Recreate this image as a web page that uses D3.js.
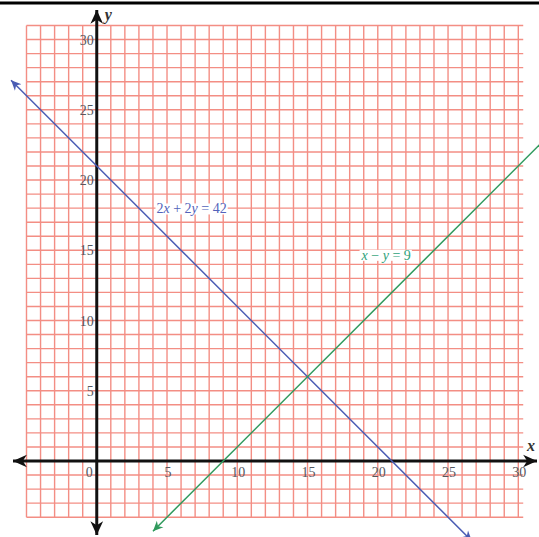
<!DOCTYPE html>
<html>
<head>
<meta charset="utf-8">
<script src="https://cdn.jsdelivr.net/npm/d3@7"></script>
<style>
  body { margin: 0; background: #fff; }
  svg { display: block; }
  text { font-family: "Liberation Serif", "DejaVu Serif", serif; }
</style>
</head>
<body>
<svg id="chart"></svg>
<script>
let w = 539;
let h = 537;

// data
let xTicks = [5, 10, 15, 20, 25, 30];
let yTicks = [5, 10, 15, 20, 25, 30];
let gridX = d3.range(-5, 31);   // vertical grid lines
let gridY = d3.range(-4, 32);   // horizontal grid lines
let blueLine = [[-6.1, 27.1], [26.7, -5.7]];   // 2x + 2y = 42
let greenLine = [[4.0, -5.0], [32.5, 23.5]];   // x - y = 9
let blueLabel = { text: "2x + 2y = 42", x: 6.75, y: 17.85 };
let greenLabel = { text: "x − y = 9", x: 20.6, y: 14.55 };

let xScale = d3.scaleLinear().domain([-5, 30]).range([26.5, 518.3]);
let yScale = d3.scaleLinear().domain([-4, 31]).range([517.2, 25.5]);

let svg = d3.select("#chart")
  .attr("width", w)
  .attr("height", h);

let defs = svg.append("defs");
function marker(id, color, size) {
  defs.append("marker")
    .attr("id", id)
    .attr("viewBox", "-12 -6 13 12")
    .attr("refX", 0)
    .attr("refY", 0)
    .attr("markerUnits", "userSpaceOnUse")
    .attr("markerWidth", size)
    .attr("markerHeight", size)
    .attr("orient", "auto-start-reverse")
    .append("path")
    .attr("d", "M0,0 L-12,-5.5 L-8.5,0 L-12,5.5 Z")
    .attr("fill", color);
}
marker("arrowBlack", "#111", 15);
marker("arrowBlue", "#4a5cb4", 11);
marker("arrowGreen", "#2f9a5c", 11);

// top rule
svg.append("line")
  .attr("x1", 0).attr("x2", w)
  .attr("y1", 3).attr("y2", 3)
  .attr("stroke", "#000")
  .attr("stroke-width", 3);

// grid
let grid = svg.append("g").attr("stroke", "#f0695c").attr("stroke-width", 1.4).attr("opacity", 0.75);
grid.selectAll(".gx")
  .data(gridX)
  .enter()
  .append("line")
  .attr("x1", (d) => xScale(d))
  .attr("x2", (d) => xScale(d))
  .attr("y1", yScale(-4))
  .attr("y2", yScale(31));
grid.selectAll(".gy")
  .data(gridY)
  .enter()
  .append("line")
  .attr("x1", xScale(-5))
  .attr("x2", xScale(30.35))
  .attr("y1", (d) => yScale(d))
  .attr("y2", (d) => yScale(d));

// axes
svg.append("line")
  .attr("x1", 13).attr("x2", w - 2)
  .attr("y1", yScale(0)).attr("y2", yScale(0))
  .attr("stroke", "#111").attr("stroke-width", 3)
  .attr("marker-start", "url(#arrowBlack)")
  .attr("marker-end", "url(#arrowBlack)");
svg.append("line")
  .attr("x1", xScale(0)).attr("x2", xScale(0))
  .attr("y1", 10).attr("y2", h - 2)
  .attr("stroke", "#111").attr("stroke-width", 3)
  .attr("marker-start", "url(#arrowBlack)")
  .attr("marker-end", "url(#arrowBlack)");

// tick labels
svg.selectAll(".xt")
  .data(xTicks)
  .enter()
  .append("text")
  .attr("x", (d) => xScale(d) + 1)
  .attr("y", yScale(0) + 16)
  .attr("text-anchor", "middle")
  .attr("font-size", 14)
  .attr("fill", "#55585f")
  .text((d) => d);
svg.append("text")
  .attr("x", xScale(0) - 4)
  .attr("y", yScale(0) + 16)
  .attr("text-anchor", "end")
  .attr("font-size", 14)
  .attr("fill", "#55585f")
  .text("0");
svg.selectAll(".yt")
  .data(yTicks)
  .enter()
  .append("text")
  .attr("x", xScale(0) - 3)
  .attr("y", (d) => yScale(d) + 5)
  .attr("text-anchor", "end")
  .attr("font-size", 14)
  .attr("fill", "#55585f")
  .text((d) => d);

// axis names
svg.append("text")
  .attr("x", xScale(0) + 8)
  .attr("y", 20)
  .attr("font-size", 16)
  .attr("font-style", "italic")
  .attr("font-weight", "bold")
  .attr("fill", "#333")
  .text("y");
svg.append("text")
  .attr("x", 527)
  .attr("y", 451)
  .attr("font-size", 16)
  .attr("font-style", "italic")
  .attr("font-weight", "bold")
  .attr("fill", "#333")
  .text("x");

// lines
let lineGen = d3.line().x((d) => xScale(d[0])).y((d) => yScale(d[1]));
svg.append("path")
  .attr("d", lineGen(blueLine))
  .attr("fill", "none")
  .attr("stroke", "#4a5cb4")
  .attr("stroke-width", 1.5)
  .attr("marker-start", "url(#arrowBlue)")
  .attr("marker-end", "url(#arrowBlue)");
svg.append("path")
  .attr("d", lineGen(greenLine))
  .attr("fill", "none")
  .attr("stroke", "#2f9a5c")
  .attr("stroke-width", 1.5)
  .attr("marker-start", "url(#arrowGreen)")
  .attr("marker-end", "url(#arrowGreen)");

// equation labels
function eqLabel(lab, color) {
  let g = svg.append("g");
  let t = g.append("text")
    .attr("x", xScale(lab.x))
    .attr("y", yScale(lab.y))
    .attr("text-anchor", "middle")
    .attr("dominant-baseline", "middle")
    .attr("font-size", 14)
    .attr("fill", color);
  let parts = lab.text.split(/([xy])/);
  parts.forEach((p) => {
    if (p === "") return;
    t.append("tspan")
      .attr("font-style", (p === "x" || p === "y") ? "italic" : "normal")
      .text(p);
  });
  let bb = t.node().getBBox();
  g.insert("rect", "text")
    .attr("x", bb.x - 1)
    .attr("y", bb.y + 2)
    .attr("width", bb.width + 2)
    .attr("height", bb.height - 4)
    .attr("fill", "#fff");
}
eqLabel(blueLabel, "#5262ba");
eqLabel(greenLabel, "#2ea27a");
</script>
</body>
</html>
